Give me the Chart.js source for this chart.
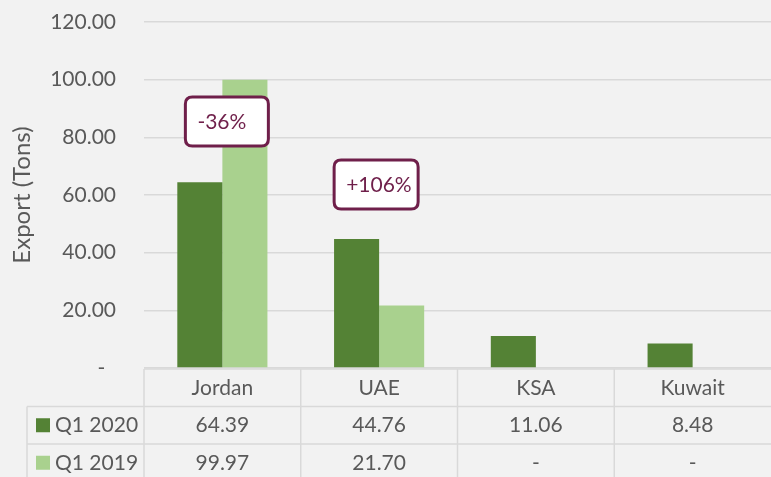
<!DOCTYPE html>
<html>
<head>
<meta charset="utf-8">
<script src="https://cdn.jsdelivr.net/npm/chart.js@4/dist/chart.umd.min.js"></script>
<style>
html,body{margin:0;padding:0;background:#f2f2f2;}
#wrap{width:771px;height:477px;position:relative;}
</style>
</head>
<body>
<div id="wrap"><canvas id="c" width="771" height="477"></canvas></div>
<script>
const categories = ["Jordan", "UAE", "KSA", "Kuwait"];
const seriesNames = ["Q1 2020", "Q1 2019"];
const q1_2020 = [64.39, 44.76, 11.06, 8.48];
const q1_2019 = [99.97, 21.70, 0, 0];
const yTicks = [0, 20, 40, 60, 80, 100, 120];
const changeLabels = ["-36%", "+106%"];

const COLORS = ["#548235", "#a9d18e"];
const TEXT = "#595959";
const GRID = "#d9d9d9";
const FONT = "Lato, 'Open Sans', sans-serif";

function fmt(v){ return v === 0 ? "-" : v.toFixed(2); }

const annotations = [
  {text: changeLabels[0], index: 0, value: 85.5, dx: -37, w: 83, h: 49},
  {text: changeLabels[1], index: 1, value: 63.6, dx: -45, w: 84, h: 49}
];

function roundRect(ctx, x, y, w, h, r){
  ctx.beginPath();
  ctx.moveTo(x+r, y);
  ctx.lineTo(x+w-r, y); ctx.quadraticCurveTo(x+w, y, x+w, y+r);
  ctx.lineTo(x+w, y+h-r); ctx.quadraticCurveTo(x+w, y+h, x+w-r, y+h);
  ctx.lineTo(x+r, y+h); ctx.quadraticCurveTo(x, y+h, x, y+h-r);
  ctx.lineTo(x, y+r); ctx.quadraticCurveTo(x, y, x+r, y);
  ctx.closePath();
}

const tablePlugin = {
  id: "dataTable",
  afterDraw(chart){
    const ctx = chart.ctx;
    const xs = chart.scales.x, ys = chart.scales.y;
    const area = chart.chartArea;
    const top = ys.getPixelForValue(0) + 1;
    const rowH = 37.5;
    const left = area.left;
    const right = chart.width;
    const colW = (area.right - area.left) / categories.length;
    const legendLeft = 27;
    ctx.save();
    ctx.strokeStyle = GRID;
    ctx.lineWidth = 1.5;
    ctx.beginPath();
    ctx.moveTo(left, top); ctx.lineTo(right, top);
    for (let r = 1; r <= 2; r++){
      const y = top + r*rowH;
      ctx.moveTo(legendLeft, y); ctx.lineTo(right, y);
    }
    for (let i = 0; i < categories.length; i++){
      const x = left + i*colW;
      ctx.moveTo(x, top); ctx.lineTo(x, chart.height);
    }
    ctx.moveTo(legendLeft, top + rowH); ctx.lineTo(legendLeft, chart.height);
    ctx.stroke();

    ctx.fillStyle = TEXT;
    ctx.font = "21px " + FONT;
    ctx.textAlign = "center";
    ctx.textBaseline = "middle";
    const rows = [q1_2020, q1_2019];
    categories.forEach((c, i) => {
      const cx = xs.getPixelForValue(i);
      ctx.fillStyle = TEXT;
      ctx.fillText(c, cx, top + rowH/2);
      rows.forEach((arr, r) => {
        ctx.fillText(fmt(arr[i]), cx, top + rowH*(r+1) + rowH/2);
      });
    });
    ctx.textAlign = "left";
    seriesNames.forEach((n, r) => {
      const cy = top + rowH*(r+1) + rowH/2;
      ctx.fillStyle = COLORS[r];
      ctx.fillRect(36, cy - 7, 14, 14);
      ctx.fillStyle = TEXT;
      ctx.fillText(n, 55, cy);
    });

    annotations.forEach(a => {
      const cx = xs.getPixelForValue(a.index);
      const cy = ys.getPixelForValue(a.value);
      const x = cx + a.dx, y = cy - a.h/2;
      roundRect(ctx, x, y, a.w, a.h, 7);
      ctx.fillStyle = "#ffffff";
      ctx.fill();
      ctx.lineWidth = 3;
      ctx.strokeStyle = "#6f1f4a";
      ctx.stroke();
      ctx.fillStyle = "#6f1f4a";
      ctx.font = "21px " + FONT;
      ctx.textAlign = "left";
      ctx.textBaseline = "middle";
      ctx.fillText(a.text, x + 12, cy + 1);
    });
    ctx.restore();
  }
};

new Chart(document.getElementById("c"), {
  type: "bar",
  data: {
    labels: categories,
    datasets: [
      {label: seriesNames[0], data: q1_2020, backgroundColor: COLORS[0], barPercentage: 1, categoryPercentage: 0.575},
      {label: seriesNames[1], data: q1_2019, backgroundColor: COLORS[1], barPercentage: 1, categoryPercentage: 0.575}
    ]
  },
  options: {
    responsive: false,
    animation: false,
    layout: {padding: {top: 22, right: 0, bottom: 109, left: 0}},
    plugins: {legend: {display: false}, tooltip: {enabled: false}},
    scales: {
      x: {display: false, offset: true},
      y: {
        min: 0, max: 120,
        afterBuildTicks(s){ s.ticks = yTicks.map(v => ({value: v})); },
        afterFit(s){ s.width = 144; s.paddingTop = 0; s.paddingBottom = 0; },
        border: {display: false},
        grid: {color: GRID, lineWidth: 1.5, drawTicks: false},
        ticks: {
          color: TEXT, padding: 28,
          font: {family: FONT, size: 21},
          callback: v => v === 0 ? "-  " : v.toFixed(2)
        },
        title: {display: true, text: "Export (Tons)", color: TEXT, font: {family: FONT, size: 24}, padding: {top: 8, bottom: 0}}
      }
    }
  },
  plugins: [tablePlugin]
});
</script>
</body>
</html>
